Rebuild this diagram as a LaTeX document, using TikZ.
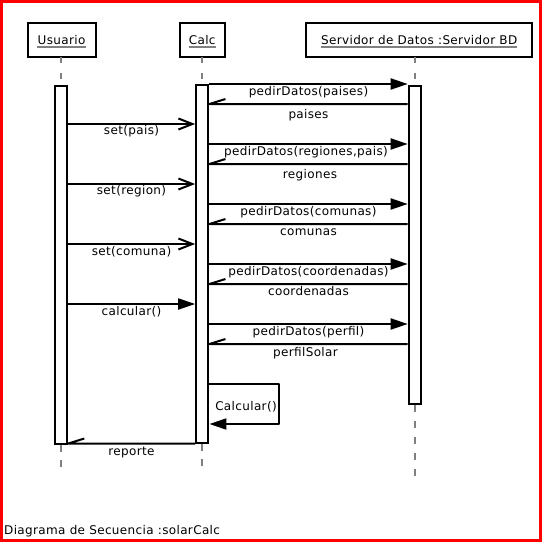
\documentclass[tikz,border=0pt]{standalone}
\usepackage{fontspec}
\setmainfont{DejaVu Sans}[LetterSpace=3]
\usetikzlibrary{arrows.meta}
\begin{document}
\begin{tikzpicture}[x=1pt,y=-1pt,
  font=\fontsize{12}{14}\selectfont,
  headbox/.style={draw, line width=2pt, minimum height=33.7pt, inner sep=0pt, outer sep=0pt},
  headtxt/.style={anchor=base, inner sep=0pt},
  ul/.style={draw=gray, line width=2pt},
  actbar/.style={draw, fill=white, line width=2pt, minimum width=12pt, inner sep=0pt, outer sep=1pt},
  life/.style={draw=gray, line width=2pt, dash pattern=on 6pt off 10pt},
  lifelow/.style={draw=gray, line width=2pt, dash pattern=on 7pt off 8pt},
  msg/.style={line width=2pt, line join=round},
  call/.style={msg, -{Triangle[length=17pt,width=11pt]}},
  async/.style={msg, -{Straight Barb[length=14pt,width=11pt]}},
  ret/.style={msg},
  lbl/.style={anchor=base, inner sep=0pt}
]
\useasboundingbox (0,0) rectangle (542,542);
\draw[red, line width=3pt] (1.5,1.5) rectangle (540.5,540.5);

% heads
\node[headbox, minimum width=67.7pt] (hU) at (61.7,39.7) {};
\node[headbox, minimum width=45.3pt] (hC) at (202.2,39.7) {};
\node[headbox, minimum width=226pt] (hS) at (419.2,39.7) {};
\node[headtxt] (tU) at (61.5,44.3) {Usuario};
\node[headtxt] (tC) at (202.2,44.3) {Calc};
\node[headtxt] (tS) at (419.2,44.3) {Servidor de Datos :Servidor BD};
\foreach \t in {tU,tC,tS}
  \draw[ul] ([yshift=-2.8pt]\t.base west) -- ([yshift=-2.8pt]\t.base east);

% end points of lifelines
\coordinate (eU) at (61,468);
\coordinate (eC) at (201.7,468);
\coordinate (eS) at (414.5,476);

% activation bars
\node[actbar, minimum height=358.7pt] (aU) at (61.3,264.85) {};
\node[actbar, minimum height=358.5pt, minimum width=12.3pt] (aC) at (202.3,263.75) {};
\node[actbar, minimum height=318.2pt] (aS) at (414.7,244.6) {};

% lifelines
\draw[life] (hU.south -| eU) -- (aU.north -| eU);
\draw[life] (hC.south -| eC) -- (aC.north -| eC);
\draw[life] (hS.south -| eS) -- (aS.north -| eS);
\draw[lifelow] (aU.south -| eU) -- (eU);
\draw[lifelow] (aC.south -| eC) -- (eC);
\draw[life, dash pattern=on 7pt off 9pt] (aS.south -| eS) -- (eS);

% messages
\draw[call] (aC.east |- 0,84) -- (aS.west |- 0,84);
\node[lbl] (m1) at (308.5,95) {pedirDatos(paises)};
\draw[ret] (aS.west |- 0,104) -- (aC.east |- 0,104) -- ++(16,-5);
\node[lbl] (m2) at (308.5,118) {paises};
\draw[async] (aU.east |- 0,124) -- (aC.west |- 0,124);
\node[lbl] (m3) at (131.5,134.5) {set(pais)};

\draw[call] (aC.east |- 0,144) -- (aS.west |- 0,144);
\node[lbl] (m4) at (306,155) {pedirDatos(regiones,pais)};
\draw[ret] (aS.west |- 0,164) -- (aC.east |- 0,164) -- ++(16,-5);
\node[lbl] (m5) at (310,178) {regiones};
\draw[async] (aU.east |- 0,184) -- (aC.west |- 0,184);
\node[lbl] (m6) at (131.5,194.5) {set(region)};

\draw[call] (aC.east |- 0,204) -- (aS.west |- 0,204);
\node[lbl] (m7) at (308.5,215) {pedirDatos(comunas)};
\draw[ret] (aS.west |- 0,224) -- (aC.east |- 0,224) -- ++(16,-5);
\node[lbl] (m8) at (308.5,235) {comunas};
\draw[async] (aU.east |- 0,244) -- (aC.west |- 0,244);
\node[lbl] (m9) at (131.5,255) {set(comuna)};

\draw[call] (aC.east |- 0,264) -- (aS.west |- 0,264);
\node[lbl] (m10) at (308.5,275) {pedirDatos(coordenadas)};
\draw[ret] (aS.west |- 0,284) -- (aC.east |- 0,284) -- ++(16,-5);
\node[lbl] (m11) at (308.5,295) {coordenadas};
\draw[call] (aU.east |- 0,304) -- (aC.west |- 0,304);
\node[lbl] (m12) at (131.5,315) {calcular()};

\draw[call] (aC.east |- 0,324) -- (aS.west |- 0,324);
\node[lbl] (m13) at (308.5,335) {pedirDatos(perfil)};
\draw[ret] (aS.west |- 0,344) -- (aC.east |- 0,344) -- ++(16,-5);
\node[lbl] (m14) at (305.5,356.5) {perfilSolar};

% self call
\coordinate (sc) at (278.5,404);
\draw[call] (aC.east |- 0,384) -- (sc |- 0,384) -- (sc |- 0,424) -- (aC.east |- 0,424);
\node[lbl] (m15) at (246,410) {Calcular()};

% reporte
\draw[ret] (aC.west |- 0,443.5) -- (aU.east |- 0,443.5) -- ++(16,-5);
\node[lbl] (m16) at (131.5,455) {reporte};

% caption
\node[anchor=base west, inner sep=0pt] (cap) at (4,534) {Diagrama de Secuencia :solarCalc};
\end{tikzpicture}
\end{document}
